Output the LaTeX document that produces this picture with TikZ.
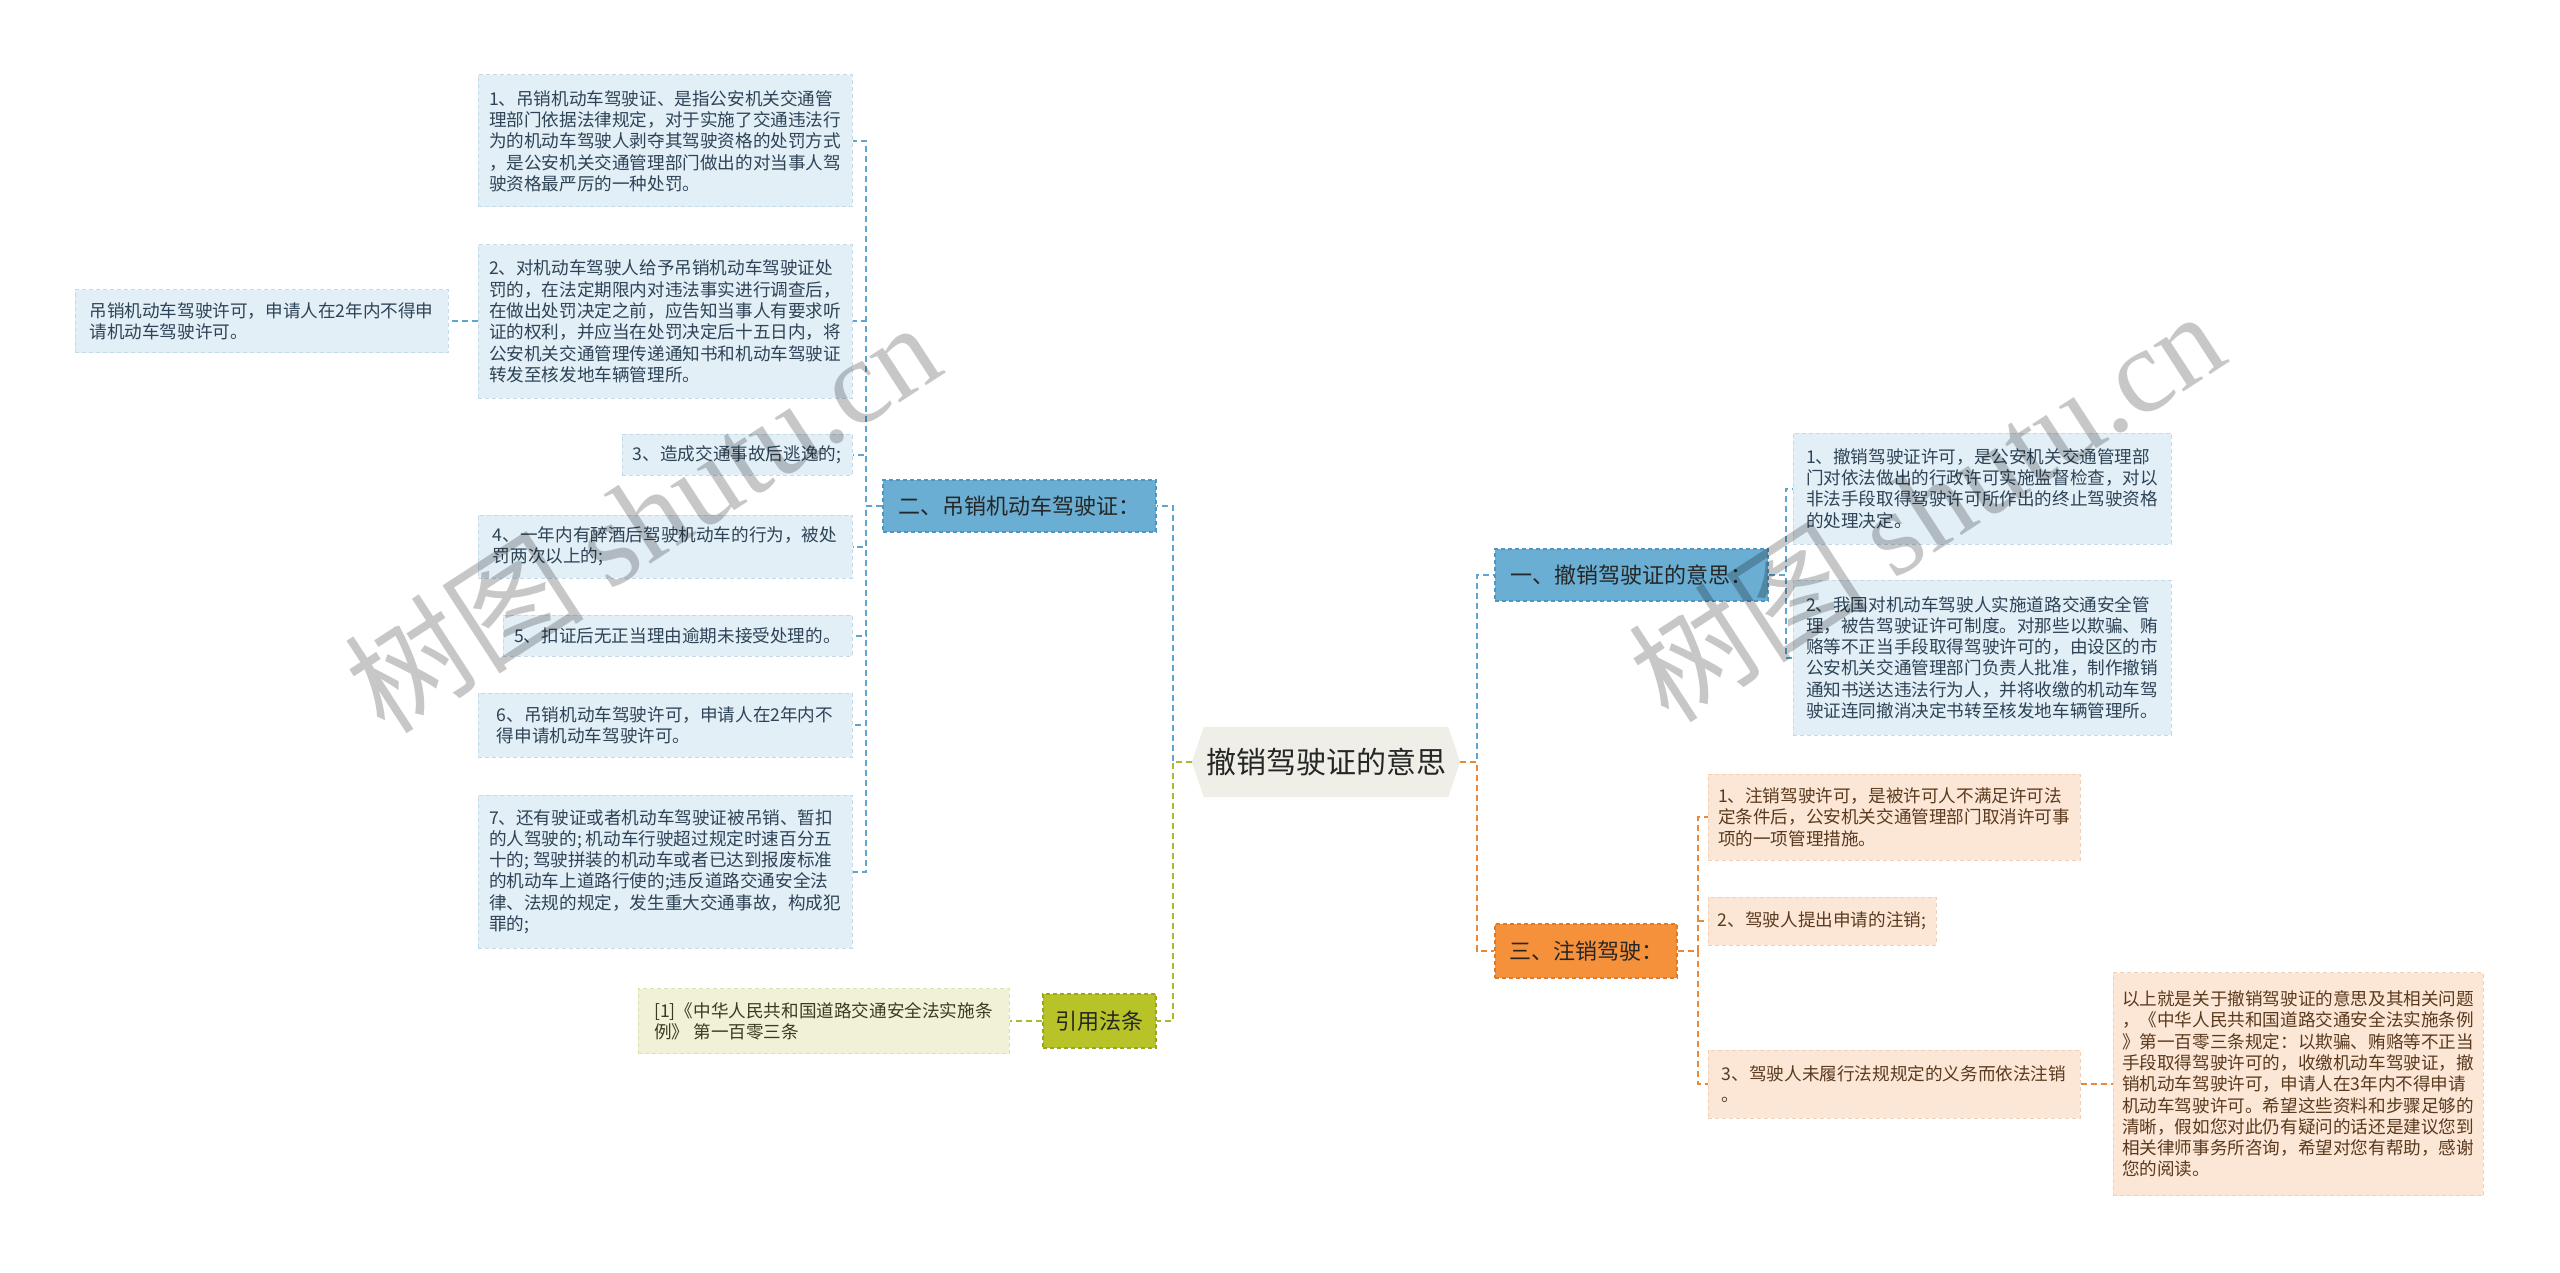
\documentclass[tikz,border=0pt]{standalone}
\usepackage{fontspec}
\setmainfont{Noto Sans CJK SC}
\newfontfamily\wmlatin{Liberation Serif}
\usetikzlibrary{backgrounds}
\definecolor{bluemain}{HTML}{6AAED3}
\definecolor{blueborder}{HTML}{4F97C2}
\definecolor{blueleaf}{HTML}{E2EFF7}
\definecolor{blueleafborder}{HTML}{C3DAEA}
\definecolor{blueline}{HTML}{5EA6D0}
\definecolor{bluetext}{HTML}{2E4356}
\definecolor{orgmain}{HTML}{F6913B}
\definecolor{orgborder}{HTML}{E07A25}
\definecolor{orgleaf}{HTML}{FCE7D6}
\definecolor{orgleafborder}{HTML}{F1D0B5}
\definecolor{orgline}{HTML}{E8893A}
\definecolor{orgtext}{HTML}{5A3A1E}
\definecolor{olvmain}{HTML}{B7C326}
\definecolor{olvborder}{HTML}{9AA61C}
\definecolor{olvleaf}{HTML}{F0F1D6}
\definecolor{olvleafborder}{HTML}{DCDFAE}
\definecolor{olvline}{HTML}{A9BA2C}
\definecolor{olvtext}{HTML}{3B3B22}
\definecolor{ctrfill}{HTML}{EFEFE7}
\begin{document}
\begin{tikzpicture}[x=1pt,y=-1pt,
  leafbase/.style={rectangle, inner sep=0pt, align=left, line width=1pt,
    dash pattern=on 4pt off 3pt, font=\fontsize{17.6}{21.3}\selectfont},
  bleaf/.style={leafbase, fill=blueleaf, draw=blueleafborder, text=bluetext},
  oleaf/.style={leafbase, fill=orgleaf, draw=orgleafborder, text=orgtext},
  gleaf/.style={leafbase, fill=olvleaf, draw=olvleafborder, text=olvtext},
  mainbase/.style={rectangle, inner sep=0pt, line width=1.2pt,
    dash pattern=on 4pt off 3pt, font=\fontsize{22}{26}\selectfont, text=black!85},
  bmain/.style={mainbase, fill=bluemain, draw=blueborder},
  omain/.style={mainbase, fill=orgmain, draw=orgborder},
  gmain/.style={mainbase, fill=olvmain, draw=olvborder},
  ctr/.style={inner sep=0pt, minimum width=268pt, minimum height=70pt,
    font=\fontsize{30}{34}\selectfont, text=black!85},
  conn/.style={line width=2pt, dash pattern=on 6pt off 4pt},
  bline/.style={conn, draw=blueline},
  oline/.style={conn, draw=orgline},
  gline/.style={conn, draw=olvline},
  wmark/.style={rotate=33, text=black, opacity=0.22}
]
\useasboundingbox (0,0) rectangle (2560,1273);
\begin{scope}[on background layer]
\fill[white] (0,0) rectangle (2560,1273);
\end{scope}

% center
\node[ctr] (c) at (1326,762) {撤销驾驶证的意思};
\begin{scope}[on background layer]
\fill[ctrfill] (c.west) -- ([xshift=12pt]c.north west) -- ([xshift=-12pt]c.north east)
  -- (c.east) -- ([xshift=-12pt]c.south east) -- ([xshift=12pt]c.south west) -- cycle;
\end{scope}

% level 1
\node[bmain, minimum width=273pt, minimum height=52pt] (b2) at (1019.5,506) {二、吊销机动车驾驶证：};
\node[gmain, minimum width=113pt, minimum height=54pt] (yin) at (1099.5,1021) {引用法条};
\node[bmain, minimum width=273pt, minimum height=52pt] (a1) at (1631.5,575) {一、撤销驾驶证的意思：};
\node[omain, minimum width=182pt, minimum height=54pt] (a3) at (1586,951) {三、注销驾驶：};

% left blue leaves
\node[bleaf, minimum width=374pt, minimum height=132pt] (l1) at (665,141) {1、吊销机动车驾驶证、是指公安机关交通管\\理部门依据法律规定，对于实施了交通违法行\\为的机动车驾驶人剥夺其驾驶资格的处罚方式\\，是公安机关交通管理部门做出的对当事人驾\\驶资格最严厉的一种处罚。};
\node[bleaf, minimum width=374pt, minimum height=153pt] (l2) at (665,321.5) {2、对机动车驾驶人给予吊销机动车驾驶证处\\罚的，在法定期限内对违法事实进行调查后，\\在做出处罚决定之前，应告知当事人有要求听\\证的权利，并应当在处罚决定后十五日内，将\\公安机关交通管理传递通知书和机动车驾驶证\\转发至核发地车辆管理所。};
\node[bleaf, minimum width=373pt, minimum height=63pt] (l2c) at (261.5,321.5) {吊销机动车驾驶许可，申请人在2年内不得申\\请机动车驾驶许可。};
\node[bleaf, minimum width=230pt, minimum height=41pt] (l3) at (737,454.5) {3、造成交通事故后逃逸的;};
\node[bleaf, minimum width=374pt, minimum height=63pt] (l4) at (665,546.5) {4、一年内有醉酒后驾驶机动车的行为，被处\\罚两次以上的;};
\node[bleaf, minimum width=349pt, minimum height=41pt] (l5) at (677.5,635.5) {5、扣证后无正当理由逾期未接受处理的。};
\node[bleaf, minimum width=374pt, minimum height=64pt] (l6) at (665,725) {6、吊销机动车驾驶许可，申请人在2年内不\\得申请机动车驾驶许可。};
\node[bleaf, minimum width=374pt, minimum height=153pt] (l7) at (665,871.5) {7、还有驶证或者机动车驾驶证被吊销、暂扣\\的人驾驶的; 机动车行驶超过规定时速百分五\\十的; 驾驶拼装的机动车或者已达到报废标准\\的机动车上道路行使的;违反道路交通安全法\\律、法规的规定，发生重大交通事故，构成犯\\罪的;};

% citation leaf
\node[gleaf, minimum width=371pt, minimum height=65pt] (yl) at (823.5,1021) {[1]《中华人民共和国道路交通安全法实施条\\例》 第一百零三条};

% right blue leaves
\node[bleaf, minimum width=378pt, minimum height=111pt] (r1) at (1982,488.5) {1、撤销驾驶证许可，是公安机关交通管理部\\门对依法做出的行政许可实施监督检查，对以\\非法手段取得驾驶许可所作出的终止驾驶资格\\的处理决定。};
\node[bleaf, minimum width=378pt, minimum height=155pt] (r2) at (1982,657.5) {2、我国对机动车驾驶人实施道路交通安全管\\理，被告驾驶证许可制度。对那些以欺骗、贿\\赂等不正当手段取得驾驶许可的，由设区的市\\公安机关交通管理部门负责人批准，制作撤销\\通知书送达违法行为人，并将收缴的机动车驾\\驶证连同撤消决定书转至核发地车辆管理所。};

% orange leaves
\node[oleaf, minimum width=372pt, minimum height=86pt] (o1) at (1894,817) {1、注销驾驶许可，是被许可人不满足许可法\\定条件后，公安机关交通管理部门取消许可事\\项的一项管理措施。};
\node[oleaf, minimum width=228pt, minimum height=48pt] (o2) at (1822,921) {2、驾驶人提出申请的注销;};
\node[oleaf, minimum width=372pt, minimum height=68pt] (o3) at (1894,1084) {3、驾驶人未履行法规规定的义务而依法注销\\。};
\node[oleaf, minimum width=370pt, minimum height=223pt] (fin) at (2298,1084) {以上就是关于撤销驾驶证的意思及其相关问题\\，《中华人民共和国道路交通安全法实施条例\\》第一百零三条规定：以欺骗、贿赂等不正当\\手段取得驾驶许可的，收缴机动车驾驶证，撤\\销机动车驾驶许可，申请人在3年内不得申请\\机动车驾驶许可。希望这些资料和步骤足够的\\清晰，假如您对此仍有疑问的话还是建议您到\\相关律师事务所咨询，希望对您有帮助，感谢\\您的阅读。};

% junctions
\coordinate (jl) at (1173,762);
\coordinate (jr) at (1477,762);
\coordinate (jb) at (866,506);
\coordinate (ja) at (1786,575);
\coordinate (jo) at (1698,951);

% connectors
\draw[bline] (c.west) -- (jl) |- (b2.east);
\draw[gline] (c.west) -- (jl) |- (yin.east);
\draw[bline] (c.east) -- (jr) |- (a1.west);
\draw[oline] (c.east) -- (jr) |- (a3.west);
\foreach \n in {l1,l2,l3,l4,l5,l6,l7}{
  \draw[bline] (b2.west) -- (jb) |- (\n.east);
}
\draw[bline] (l2.west) -- (l2c.east);
\draw[gline] (yin.west) -- (yl.east);
\draw[bline] (a1.east) -- (ja) |- (r1.west);
\draw[bline] (a1.east) -- (ja) |- (r2.west);
\draw[oline] (a3.east) -- (jo) |- (o1.west);
\draw[oline] (a3.east) -- (jo) |- (o2.west);
\draw[oline] (a3.east) -- (jo) |- (o3.west);
\draw[oline] (o3.east) -- (fin.west);

% watermarks
\node[wmark] (wm1) at (642,516) {\fontsize{120}{120}\selectfont 树图 {\wmlatin shutu.cn}};
\node[wmark] (wm2) at (1926,505) {\fontsize{120}{120}\selectfont 树图 {\wmlatin shutu.cn}};
\end{tikzpicture}
\end{document}
